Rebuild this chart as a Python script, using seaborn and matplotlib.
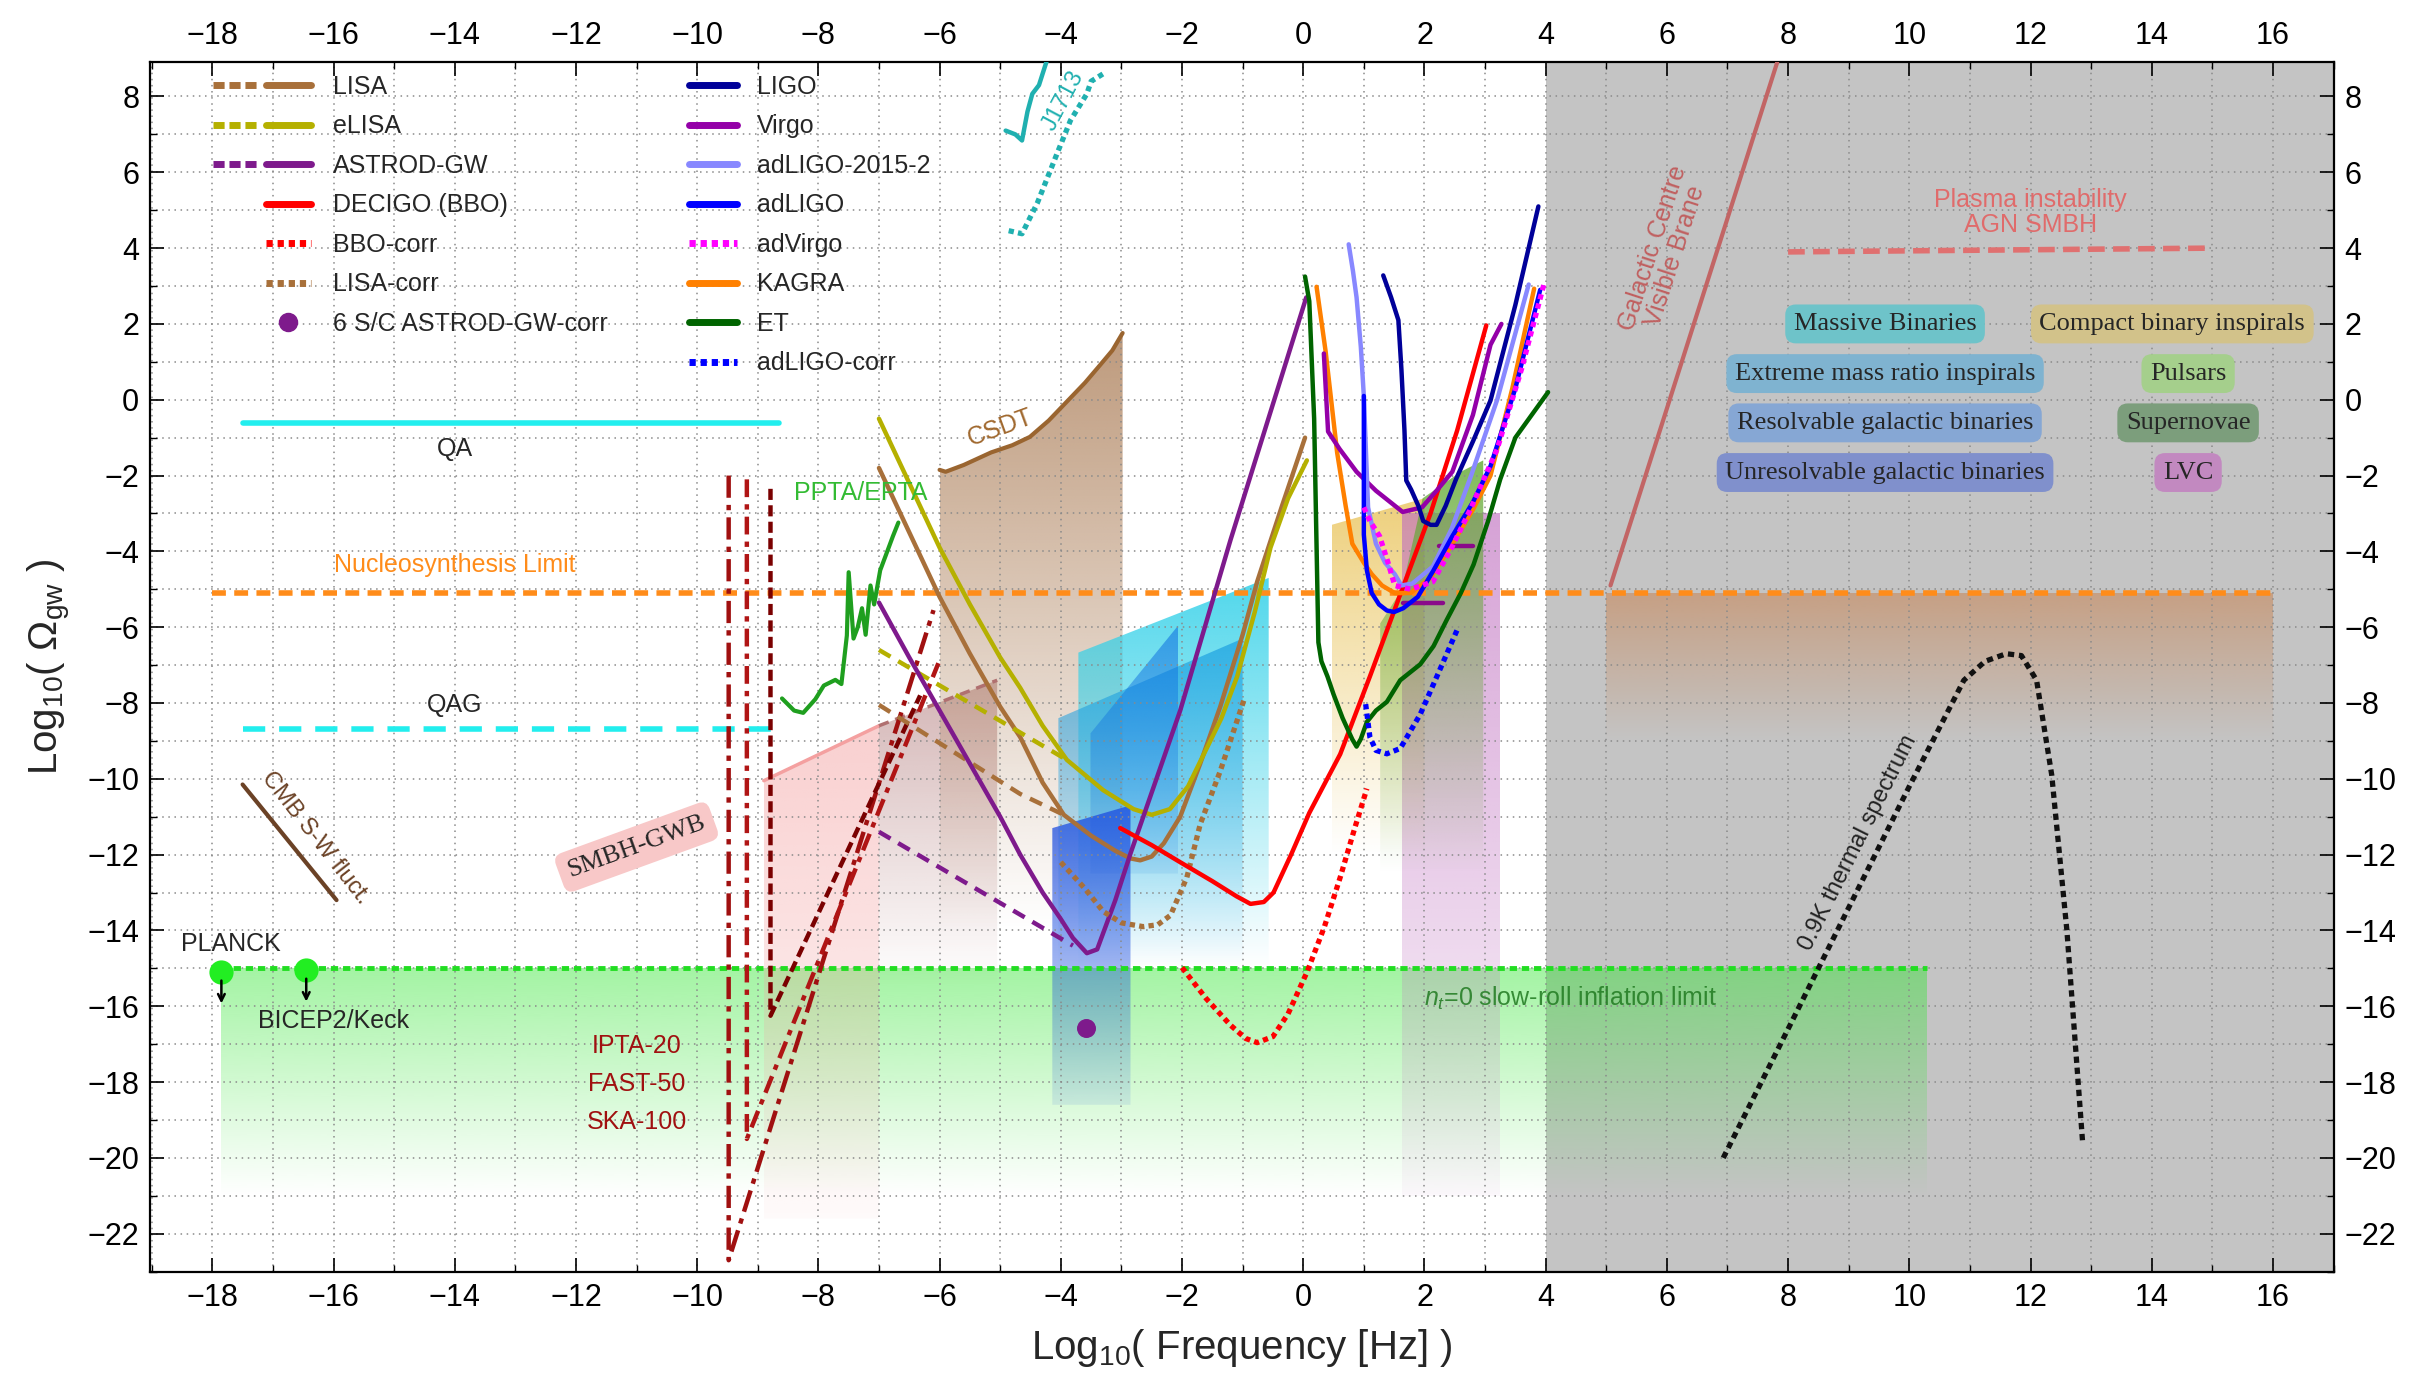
import numpy as np
import matplotlib
matplotlib.use("Agg")
import matplotlib.pyplot as plt
import matplotlib.colors as mcolors
import seaborn as sns
from matplotlib.lines import Line2D
from matplotlib.patches import Polygon
from matplotlib.legend_handler import HandlerTuple
from matplotlib.ticker import MultipleLocator

# =========================
# DATA  (log10 f [Hz], log10 Omega_gw)
# =========================
QA_X, QA_Y = [-17.5, -8.65], [-0.62, -0.62]
QAG_X, QAG_Y = [-17.5, -8.6], [-8.68, -8.68]
NUC_X, NUC_Y = [-18.0, 16.0], [-5.1, -5.1]
INFL_X, INFL_Y = [-17.85, 10.3], [-15.0, -15.0]
CMB_X, CMB_Y = [-17.5, -15.95], [-10.15, -13.2]
CMB_DOT_X, CMB_DOT_Y = [-17.85, -16.45], [-15.1, -15.05]

IPTA_X, IPTA_Y = [-9.48, -9.48, -6.1], [-2.0, -22.7, -5.55]
FAST_X, FAST_Y = [-9.18, -9.18, -6.02], [-2.1, -19.5, -6.95]
SKA_X, SKA_Y = [-8.79, -8.79, -6.32], [-2.35, -16.25, -7.8]

PPTA_X = [-8.6, -8.4, -8.25, -8.05, -7.91, -7.72, -7.62, -7.53, -7.5, -7.42, -7.35,
          -7.28, -7.22, -7.14, -7.08, -6.98, -6.87, -6.77, -6.68]
PPTA_Y = [-7.88, -8.2, -8.26, -7.9, -7.54, -7.39, -7.5, -6.22, -4.55, -6.3, -6.0,
          -5.5, -6.2, -4.9, -5.4, -4.5, -4.03, -3.6, -3.24]

J1713_X = [-4.91, -4.75, -4.64, -4.55, -4.47, -4.36, -4.23]
J1713_Y = [7.1, 7.0, 6.84, 7.6, 8.07, 8.3, 8.95]
J1713C_X = [-4.86, -4.64, -4.39, -4.06, -3.84, -3.57, -3.5, -3.26]
J1713C_Y = [4.46, 4.38, 5.18, 6.5, 7.37, 8.07, 8.4, 8.64]

CSDT_X = [-6.0, -5.9, -5.6, -5.15, -4.8, -4.51, -4.2, -3.87, -3.6, -3.36, -3.15, -2.98]
CSDT_Y = [-1.85, -1.9, -1.72, -1.39, -1.2, -0.98, -0.55, 0.0, 0.45, 0.9, 1.3, 1.76]

SMBH_X, SMBH_Y = [-8.9, -7.0], [-10.05, -8.6]
SMBH2_X, SMBH2_Y = [-7.0, -5.05], [-8.6, -7.4]

LISA_X = [-7.0, -6.5, -6.0, -5.5, -5.0, -4.67, -4.3, -3.95, -3.5, -3.1, -2.85, -2.69,
          -2.5, -2.3, -2.03, -1.7, -1.37, -1.0, -0.76, -0.35, 0.03]
LISA_Y = [-1.8, -3.5, -5.2, -6.7, -8.1, -8.9, -10.1, -10.95, -11.5, -11.9, -12.1, -12.15,
          -12.05, -11.7, -11.0, -9.6, -8.1, -6.2, -4.8, -2.8, -1.0]
LISAD_X, LISAD_Y = [-7.0, -4.67, -3.95], [-8.05, -10.4, -10.95]

ELISA_X = [-7.0, -6.5, -6.0, -5.5, -5.0, -4.67, -4.3, -3.9, -3.3, -2.8, -2.5, -2.2, -1.9,
           -1.64, -1.35, -1.09, -0.8, -0.54, -0.25, 0.06]
ELISA_Y = [-0.5, -2.2, -3.9, -5.4, -6.8, -7.6, -8.6, -9.5, -10.3, -10.8, -10.95, -10.8,
           -10.2, -9.35, -8.4, -7.3, -5.6, -3.9, -2.6, -1.6]
ELISAD_X, ELISAD_Y = [-7.0, -3.9], [-6.6, -9.5]

ASTROD_X = [-7.0, -6.5, -6.0, -5.5, -5.0, -4.67, -4.3, -4.0, -3.8, -3.57, -3.4, -3.1,
            -2.85, -2.03, -1.2, 0.05]
ASTROD_Y = [-5.35, -6.8, -8.2, -9.6, -11.0, -12.0, -13.0, -13.7, -14.2, -14.6, -14.5,
            -13.2, -11.97, -8.2, -3.7, 2.7]
ASTRODD_X, ASTRODD_Y = [-7.0, -3.8], [-11.4, -14.4]
ASTROD6_X, ASTROD6_Y = [-3.59], [-16.58]

LISAC_X = [-4.0, -3.6, -3.3, -3.0, -2.64, -2.4, -2.19, -1.92, -1.7, -1.37, -0.98]
LISAC_Y = [-12.2, -12.9, -13.5, -13.8, -13.9, -13.85, -13.6, -12.6, -11.2, -9.8, -7.93]

DECIGO_X = [-3.02, -2.5, -2.03, -1.5, -1.1, -0.87, -0.65, -0.49, -0.2, 0.1, 0.61, 1.1,
            1.6, 2.1, 2.54, 3.02]
DECIGO_Y = [-11.3, -11.75, -12.2, -12.7, -13.1, -13.3, -13.25, -13.0, -12.0, -10.9,
            -9.35, -7.3, -5.14, -3.0, -0.81, 1.96]
BBOC_X = [-2.0, -1.6, -1.2, -0.95, -0.76, -0.5, -0.25, 0.07, 0.35, 0.61, 0.85, 1.05]
BBOC_Y = [-14.98, -15.8, -16.5, -16.85, -16.96, -16.8, -16.2, -15.07, -13.9, -12.6,
          -11.3, -10.26]

LIGO_X = [1.32, 1.45, 1.57, 1.62, 1.67, 1.7, 1.78, 1.9, 1.98, 2.1, 2.2, 2.35, 2.52,
          2.8, 3.09, 3.5, 3.88]
LIGO_Y = [3.28, 2.7, 2.1, 0.8, -0.8, -2.13, -2.37, -2.8, -3.2, -3.3, -3.3, -2.8, -2.1,
          -1.1, -0.02, 2.5, 5.1]
VIRGO_X = [0.34, 0.41, 0.6, 0.88, 1.2, 1.64, 1.96, 2.2, 2.46, 2.8, 3.09, 3.27]
VIRGO_Y = [1.22, -0.84, -1.3, -1.9, -2.4, -2.96, -2.84, -2.4, -1.9, -0.4, 1.45, 2.0]
VIRGO_BAR1_X, VIRGO_BAR1_Y = [2.24, 2.8], [-3.85, -3.85]
VIRGO_BAR2_X, VIRGO_BAR2_Y = [1.64, 2.3], [-5.35, -5.35]
ADL15_X = [0.75, 0.82, 0.88, 0.95, 1.0, 1.07, 1.2, 1.35, 1.51, 1.62, 1.8, 2.14, 2.45,
           2.77, 3.2, 3.72]
ADL15_Y = [4.1, 3.4, 2.7, 1.4, 0.1, -2.84, -3.8, -4.3, -4.6, -4.9, -4.85, -4.4, -3.4,
           -2.0, 0.0, 3.04]
ADLIGO_X = [1.0, 1.0, 1.05, 1.13, 1.25, 1.38, 1.5, 1.65, 1.89, 2.15, 2.46, 2.8, 3.09,
            3.5, 3.91]
ADLIGO_Y = [0.1, -3.56, -4.5, -5.1, -5.4, -5.56, -5.6, -5.5, -5.2, -4.5, -3.6, -2.7,
            -1.75, 0.3, 2.9]
ADVIRGO_X = [1.0, 1.1, 1.26, 1.4, 1.51, 1.77, 2.14, 2.45, 2.77, 3.2, 3.6, 3.97]
ADVIRGO_Y = [-2.84, -3.2, -3.6, -4.3, -4.9, -5.0, -4.8, -3.9, -2.85, -1.3, 0.8, 3.04]
KAGRA_X = [0.22, 0.37, 0.56, 0.7, 0.81, 1.0, 1.13, 1.3, 1.51, 1.77, 2.1, 2.46, 2.8,
           3.09, 3.45, 3.81]
KAGRA_Y = [2.98, 1.27, -1.4, -2.8, -3.8, -4.3, -4.6, -4.9, -5.1, -5.1, -4.7, -3.8, -2.9,
           -2.0, 0.3, 2.93]
ET_X = [0.03, 0.1, 0.18, 0.25, 0.3, 0.4, 0.5, 0.65, 0.81, 0.88, 0.95, 1.05, 1.2, 1.38,
        1.6, 1.93, 2.15, 2.37, 2.6, 2.81, 3.05, 3.25, 3.5, 4.04]
ET_Y = [3.25, 2.6, -0.5, -6.4, -6.9, -7.3, -7.77, -8.4, -8.96, -9.15, -8.95, -8.5, -8.2,
        -7.97, -7.4, -6.98, -6.5, -5.8, -5.1, -4.35, -3.2, -2.1, -1.0, 0.2]
ADLC_X = [1.03, 1.1, 1.2, 1.38, 1.6, 1.93, 2.26, 2.54]
ADLC_Y = [-8.03, -8.9, -9.25, -9.34, -9.2, -8.3, -7.1, -6.07]

GAL_X, GAL_Y = [5.07, 7.82], [-4.9, 8.9]
PLASMA_X, PLASMA_Y = [8.0, 15.0], [3.9, 4.0]
THERM_X = [6.93, 8.0, 9.0, 10.0, 10.9, 11.25, 11.6, 11.85, 12.1, 12.35, 12.6, 12.86]
THERM_Y = [-20.0, -16.6, -13.4, -10.2, -7.4, -6.9, -6.7, -6.75, -7.4, -9.9, -14.0, -19.6]

# shaded source regions: x edges, top edge, bottom
MB_X, MB_TOP, MB_BOT = [-3.71, -0.57], [-6.67, -4.7], -15.0
EMRI_X, EMRI_TOP, EMRI_BOT = [-4.04, -1.0], [-8.4, -6.3], -15.0
RGB_X, RGB_TOP, RGB_BOT = [-3.51, -2.06], [-8.8, -5.95], -12.5
UGB_X, UGB_TOP, UGB_BOT = [-4.14, -2.85], [-11.3, -10.7], -18.6
CBI_X, CBI_TOP, CBI_BOT = [0.47, 2.0], [-3.3, -2.6], -12.0
LVC_X, LVC_TOP, LVC_BOT = [1.63, 3.25], [-3.0, -3.0], -21.0
PSR_X, PSR_TOP, PSR_BOT = [1.27, 1.63, 1.97, 2.6, 2.97], [-5.9, -5.0, -2.6, -1.9, -1.6], -12.5
HOT_X, HOT_TOP, HOT_BOT = [5.0, 16.0], [-5.1, -5.1], -9.0

BOX_LABELS = ["Massive Binaries", "Compact binary inspirals", "Extreme mass ratio inspirals",
              "Pulsars", "Resolvable galactic binaries", "Supernovae",
              "Unresolvable galactic binaries", "LVC"]
BOX_X = [9.6, 14.34, 9.6, 14.6, 9.6, 14.6, 9.6, 14.6]
BOX_Y = [2.0, 2.0, 0.69, 0.69, -0.61, -0.61, -1.92, -1.92]
BOX_COLORS = ["#6ec3c9", "#d2c28a", "#7fb3d0", "#a5cf8c", "#86a7d4", "#7c9e7c",
              "#8090cc", "#c289c0"]

# =========================
# STYLE
# =========================
sns.set_theme(style="white")
plt.rcParams['font.family'] = ['Liberation Sans', 'DejaVu Sans']
plt.rcParams['mathtext.fontset'] = 'custom'
plt.rcParams['mathtext.rm'] = 'Liberation Sans'
plt.rcParams['mathtext.it'] = 'Liberation Sans:italic'

BROWN = "#a8703a"
OLIVE = "#b5b000"
PURPLE = "#7e1a8c"
DOT = (0, (1.0, 0.8))

fig = plt.figure(figsize=(24.27, 13.77), dpi=100)
ax = fig.add_axes([0.062, 0.076, 0.8995, 0.8787])


def curve(x, y, color, ls="-", lw=3.2, z=3):
    sns.lineplot(x=x, y=y, sort=False, estimator=None, color=color, linestyle=ls,
                 linewidth=lw, legend=False, ax=ax, zorder=z, dash_capstyle="butt")


def fade(xs, ytop, ybot, color, a_top, a_bot=0.0, z=0.3):
    xs = np.asarray(xs, float)
    ytop = np.asarray(ytop, float)
    verts = list(zip(xs, ytop)) + [(xs[-1], ybot), (xs[0], ybot)]
    poly = Polygon(verts, closed=True, facecolor="none", edgecolor="none")
    ax.add_patch(poly)
    img = np.zeros((256, 1, 4))
    img[:, 0, :3] = mcolors.to_rgb(color)
    img[:, 0, 3] = np.linspace(a_top, a_bot, 256)
    im = ax.imshow(img, extent=[xs.min(), xs.max(), ybot, ytop.max()], origin="upper",
                   aspect="auto", zorder=z, interpolation="bilinear")
    im.set_clip_path(poly)


# =========================
# BACKGROUND REGIONS
# =========================
ax.axvspan(4.0, 17.5, color="#c4c4c4", zorder=0.1, lw=0)
fade(HOT_X, HOT_TOP, HOT_BOT, "#c8885a", 0.6)
fade(INFL_X, INFL_Y, -21.0, "#33e633", 0.45, 0.0, z=0.25)
fade(SMBH_X, SMBH_Y, -21.6, "#f4a0a0", 0.5, 0.05)
fade(SMBH2_X, SMBH2_Y, -15.5, "#b07878", 0.55)
fade(CSDT_X, CSDT_Y, -14.0, "#a87850", 0.75)
fade(MB_X, MB_TOP, MB_BOT, "#30d0e8", 0.85)
fade(EMRI_X, EMRI_TOP, EMRI_BOT, "#1a9ee0", 0.7)
fade(RGB_X, RGB_TOP, RGB_BOT, "#1070e0", 0.6, 0.1)
fade(UGB_X, UGB_TOP, UGB_BOT, "#2050e0", 0.8, 0.1)
fade(CBI_X, CBI_TOP, CBI_BOT, "#e8c050", 0.75)
fade(LVC_X, LVC_TOP, LVC_BOT, "#c070c0", 0.65, 0.05)
fade(PSR_X, PSR_TOP, PSR_BOT, "#60a830", 0.8)

# =========================
# CURVES
# =========================
curve(QA_X, QA_Y, "#22eeee", lw=4)
curve(QAG_X, QAG_Y, "#22eeee", ls=(0, (4, 2.5)), lw=4)
curve(NUC_X, NUC_Y, "#ff8c1a", ls=(0, (2.5, 1.5)), lw=4)
curve(INFL_X, INFL_Y, "#22dd22", ls=(0, (1.5, 1)), lw=3.5)
curve(CMB_X, CMB_Y, "#6b4226", lw=3)
curve(SMBH_X, SMBH_Y, "#f4a0a0", lw=2.5)
curve(SMBH2_X, SMBH2_Y, "#b07070", ls=(0, (3, 2)), lw=2.5)
curve(CSDT_X, CSDT_Y, "#9a6530", lw=3)

curve(IPTA_X, IPTA_Y, "#a01010", ls=(0, (5, 1.6, 1.2, 1.6)), lw=3.2)
curve(FAST_X, FAST_Y, "#b01515", ls=(0, (4, 1.6, 1.2, 1.6)), lw=3.2)
curve(SKA_X, SKA_Y, "#7a0000", ls=(0, (2.5, 1.2)), lw=3.2)
curve(PPTA_X, PPTA_Y, "#1f9f1f", lw=3)
curve(J1713_X, J1713_Y, "#20b0b0", lw=3.2)
curve(J1713C_X, J1713C_Y, "#20b0b0", ls=DOT, lw=3.8)

curve(LISAD_X, LISAD_Y, BROWN, ls=(0, (3, 2)))
curve(LISA_X, LISA_Y, BROWN)
curve(ELISAD_X, ELISAD_Y, OLIVE, ls=(0, (3, 2)))
curve(ELISA_X, ELISA_Y, OLIVE)
curve(ASTRODD_X, ASTRODD_Y, PURPLE, ls=(0, (3, 2)))
curve(ASTROD_X, ASTROD_Y, PURPLE)
curve(LISAC_X, LISAC_Y, BROWN, ls=DOT, lw=3.8)
curve(DECIGO_X, DECIGO_Y, "#ff0000")
curve(BBOC_X, BBOC_Y, "#ff0000", ls=DOT, lw=3.8)

curve(ET_X, ET_Y, "#006400")
curve(KAGRA_X, KAGRA_Y, "#ff8000")
curve(VIRGO_X, VIRGO_Y, "#9400a8")
curve(VIRGO_BAR1_X, VIRGO_BAR1_Y, "#8a0a8a")
curve(VIRGO_BAR2_X, VIRGO_BAR2_Y, "#8a0a8a")
curve(ADL15_X, ADL15_Y, "#8888ff")
curve(ADLIGO_X, ADLIGO_Y, "#0000ff")
curve(LIGO_X, LIGO_Y, "#000099")
curve(ADVIRGO_X, ADVIRGO_Y, "#ff00ff", ls=DOT, lw=3.8)
curve(ADLC_X, ADLC_Y, "#0000ff", ls=DOT, lw=3.8)

curve(GAL_X, GAL_Y, "#c26565", lw=3)
curve(PLASMA_X, PLASMA_Y, "#e07070", ls=(0, (3, 1.5)), lw=4)
curve(THERM_X, THERM_Y, "#111111", ls=(0, (1.2, 0.9)), lw=3.8)

sns.scatterplot(x=ASTROD6_X, y=ASTROD6_Y, color=PURPLE, s=160, edgecolor=PURPLE,
                ax=ax, zorder=4, legend=False)
sns.scatterplot(x=CMB_DOT_X, y=CMB_DOT_Y, color="#22ee22", s=260, edgecolor="#22ee22",
                ax=ax, zorder=4, legend=False)
for xd, yd in zip(CMB_DOT_X, CMB_DOT_Y):
    ax.annotate("", xy=(xd, yd - 0.9), xytext=(xd, yd - 0.15),
                arrowprops=dict(arrowstyle="->", color="black", lw=1.8), zorder=4)

# =========================
# TEXT
# =========================
fs = 18
ax.text(-14.0, -1.3, "QA", fontsize=fs, ha="center", va="center")
ax.text(-14.0, -8.05, "QAG", fontsize=fs, ha="center", va="center")
ax.text(-14.0, -4.35, "Nucleosynthesis Limit", fontsize=fs, color="#ff8c1a",
        ha="center", va="center")
ax.text(-7.3, -2.45, "PPTA/EPTA", fontsize=fs, color="#33bb33", ha="center", va="center")
ax.text(-5.0, -0.75, "CSDT", fontsize=fs, color="#a0682e", ha="center", va="center",
        rotation=20)
ax.text(-3.95, 7.9, "J1713", fontsize=fs - 1, color="#20b0b0", ha="center", va="center",
        rotation=62)
ax.text(-16.3, -11.55, "CMB S-W fluct.", fontsize=fs - 1, color="#6b4226", ha="center",
        va="center", rotation=-52)
ax.text(-11.0, -11.8, "SMBH-GWB", fontsize=fs + 1, family="Liberation Serif", ha="center",
        va="center", rotation=20,
        bbox=dict(boxstyle="round,pad=0.35", fc="#f8c8c8", ec="none"))
ax.text(-17.7, -14.35, "PLANCK", fontsize=fs, ha="center", va="center")
ax.text(-16.0, -16.4, "BICEP2/Keck", fontsize=fs, ha="center", va="center")
for lab, yy in zip(["IPTA-20", "FAST-50", "SKA-100"], [-17.05, -18.05, -19.05]):
    ax.text(-11.0, yy, lab, fontsize=fs, color="#a01010", ha="center", va="center")
ax.text(2.0, -15.8, "$n_t$=0 slow-roll inflation limit", fontsize=fs, color="#207a20",
        ha="left", va="center", alpha=0.85)
ax.text(5.95, 3.9, "Galactic Centre\nVisible Brane", fontsize=fs, color="#c06060",
        ha="center", va="center", rotation=72, linespacing=1.0)
ax.text(12.0, 4.95, "Plasma instability\nAGN SMBH", fontsize=fs, color="#e06b6b",
        ha="center", va="center", linespacing=1.05)
ax.text(9.15, -11.7, "0.9K thermal spectrum", fontsize=fs - 1, color="#222222",
        ha="center", va="center", rotation=63.5)
for lab, xb, yb, cb in zip(BOX_LABELS, BOX_X, BOX_Y, BOX_COLORS):
    ax.text(xb, yb, lab, fontsize=fs + 1, family="Liberation Serif", ha="center",
            va="center", zorder=4,
            bbox=dict(boxstyle="round,pad=0.32,rounding_size=0.4", fc=cb, ec="none"))

# =========================
# LEGENDS
# =========================
def h(c, ls="-"):
    return Line2D([], [], color=c, lw=5, linestyle=ls, dash_capstyle="butt")


blank = Line2D([], [], color="none")
dot6 = Line2D([], [], color="none", marker="o", markersize=13,
              markerfacecolor=PURPLE, markeredgecolor=PURPLE)
DASH_H = (0, (1.6, 0.7))
DOT_H = (0, (0.9, 0.7))
hand1 = [(h(BROWN, DASH_H), h(BROWN)), (h(OLIVE, DASH_H), h(OLIVE)),
         (h(PURPLE, DASH_H), h(PURPLE)), (blank, h("#ff0000")),
         (blank, h("#ff0000", DOT_H)), (blank, h(BROWN, DOT_H)),
         (blank, dot6)]
lab1 = ["LISA", "eLISA", "ASTROD-GW", "DECIGO (BBO)", "BBO-corr", "LISA-corr",
        "6 S/C ASTROD-GW-corr"]
leg1 = ax.legend(hand1, lab1, loc="upper left", bbox_to_anchor=(0.023, 1.0),
                 frameon=False, fontsize=fs, handlelength=3.9, handletextpad=0.9,
                 labelspacing=0.62, borderpad=0.5, borderaxespad=0,
                 handler_map={tuple: HandlerTuple(ndivide=None, pad=0.3)})
ax.add_artist(leg1)

hand2 = [h("#000099"), h("#9400a8"), h("#8888ff"), h("#0000ff"),
         h("#ff00ff", DOT_H), h("#ff8000"), h("#006400"),
         h("#0000ff", DOT_H)]
lab2 = ["LIGO", "Virgo", "adLIGO-2015-2", "adLIGO", "adVirgo", "KAGRA", "ET", "adLIGO-corr"]
ax.legend(hand2, lab2, loc="upper left", bbox_to_anchor=(0.241, 1.0), frameon=False,
          fontsize=fs, handlelength=1.9, handletextpad=0.8, labelspacing=0.62,
          borderpad=0.5, borderaxespad=0)

# =========================
# AXES
# =========================
ax.set_xlim(-19.02, 17.0)
ax.set_ylim(-23.02, 8.9)
ax.xaxis.set_major_locator(MultipleLocator(2))
ax.xaxis.set_minor_locator(MultipleLocator(1))
ax.yaxis.set_major_locator(MultipleLocator(2))
ax.yaxis.set_minor_locator(MultipleLocator(1))
ax.grid(True, which="both", linestyle=(0, (1, 3)), color="#8a8a8a", lw=1.1)
ax.tick_params(which="both", direction="in", top=True, right=True, bottom=True, left=True,
               labeltop=True, labelright=True, colors="black")
ax.tick_params(which="major", length=10, width=1.2, labelsize=22, pad=8)
ax.tick_params(which="minor", length=5, width=1.0)
for lbl in ax.get_xticklabels() + ax.get_yticklabels():
    lbl.set_fontfamily(["Liberation Sans Narrow", "Liberation Sans", "DejaVu Sans"])
for sp in ax.spines.values():
    sp.set_color("black")
    sp.set_linewidth(1.6)

ax.set_xlabel("Log$_{10}$( Frequency [Hz] )", fontsize=29, labelpad=10)
ax.set_ylabel("Log$_{10}$( Ω$_{\\rm gw}$ )", fontsize=29, labelpad=10)

fig.savefig("out.png", dpi=100)
